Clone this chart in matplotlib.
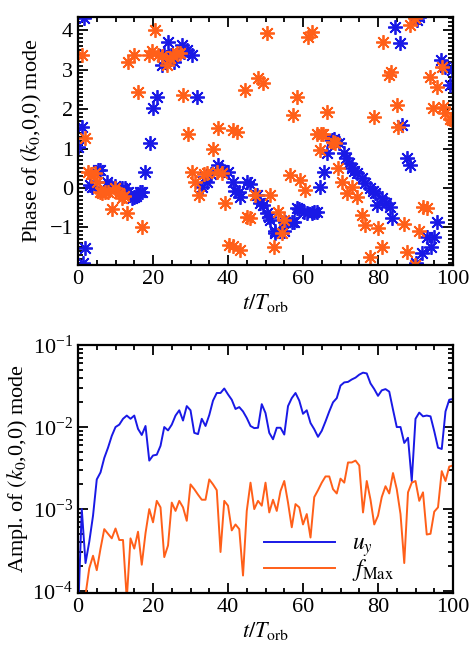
import numpy as np
import matplotlib
matplotlib.use('Agg')
import matplotlib.pyplot as plt
from matplotlib.ticker import MultipleLocator, LogLocator, NullFormatter

plt.rcParams['font.family'] = ['Liberation Serif', 'DejaVu Serif']
plt.rcParams['mathtext.fontset'] = 'stix'
plt.rcParams['font.size'] = 16

blue = '#1919E6'
orange = '#FF5F19'

# phase of the (k0,0,0) mode, u_y (blue)
t_uy = [0.1, 1.0, 1.5, 1.4, 1.9, 3.2, 3.6, 5.4, 5.9, 7.6, 8.8, 9.9, 11.6, 12.5, 13.4,
        14.3, 14.8, 15.5, 16.5, 17.0, 17.9, 19.2, 20.0, 21.0, 22.3, 23.0, 24.1, 24.7,
        25.5, 27.6, 28.3, 29.0, 30.3, 31.6, 33.0, 33.9, 34.3, 35.5, 37.4, 38.5, 40.1,
        41.4, 41.8, 42.8, 43.3, 45.0, 45.8, 47.6, 48.6, 49.4, 50.4, 50.8, 51.3, 52.5,
        52.6, 54.8, 55.3, 57.0, 57.5, 58.4, 58.8, 60.2, 61.0, 62.3, 62.8, 63.7, 64.6,
        65.5, 66.4, 67.7, 68.3, 69.5, 70.8, 71.5, 72.2, 73.0, 73.7, 74.4, 75.7, 76.6,
        77.9, 78.6, 79.3, 79.7, 81.0, 82.0, 83.3, 83.7, 84.6, 85.8, 86.4, 87.7, 88.6,
        90.0, 90.4, 91.0, 91.7, 93.1, 94.0, 94.8, 95.7, 96.8, 97.9, 99.3, 99.6]
ph_uy = [1.05, 1.55, 4.3, -1.9, -1.53, 0.08, 0.03, 0.46, 0.46, 0.16, 0.05, 0.05, -0.01,
         0.0, -0.09, -0.25, -0.22, -0.2, -0.09, -0.09, 0.41, 1.13, 2.02, 2.31, 3.11, 3.4,
         3.7, 3.37, 3.2, 3.62, 3.45, 3.49, 3.37, 2.31, 0.03, 0.29, 0.16, 0.35, 0.58, 0.45,
         0.41, 0.16, -0.08, -0.09, -0.22, 0.16, 0.1, -0.18, -0.39, -0.43, -0.64, -0.73,
         -0.81, -1.1, -1.15, -1.1, -0.85, -0.85, -0.85, -0.5, -0.52, -0.6, -0.64, -0.64,
         -0.6, -0.62, 0.03, 0.41, 0.88, 1.22, 1.25, 1.13, 0.88, 0.75, 0.63, 0.5, 0.44,
         0.37, 0.25, 0.12, -0.01, -0.07, -0.13, -0.43, -0.26, -0.39, -0.47, -0.77, 4.08,
         3.66, 1.6, 0.75, 0.58, -1.9, 4.25, 4.33, -1.65, -1.23, -1.49, -1.23, -0.85, 3.24,
         3.07, 2.61, 3.0]

# phase of the (k0,0,0) mode, f_Max (orange)
t_fm = [1.0, 1.9, 2.7, 3.5, 4.5, 5.0, 5.9, 6.5, 7.3, 8.1, 9.0, 9.9, 10.8, 11.6, 12.2,
        13.0, 13.4, 14.8, 16.1, 17.0, 18.8, 19.6, 20.5, 21.4, 22.3, 23.6, 24.5, 25.3,
        26.3, 27.2, 28.1, 29.4, 30.3, 31.2, 32.3, 33.5, 34.5, 36.1, 37.0, 37.4, 38.3,
        39.2, 40.3, 41.2, 41.4, 42.3, 43.2, 44.5, 45.0, 45.9, 47.2, 48.1, 49.4, 50.3,
        51.2, 52.3, 53.2, 54.4, 55.0, 56.4, 57.4, 58.3, 59.2, 60.5, 61.4, 62.3, 63.6,
        64.5, 64.9, 65.4, 66.3, 68.1, 68.6, 69.4, 70.3, 71.6, 73.0, 74.3, 75.6, 76.5,
        77.9, 78.8, 80.1, 81.0, 81.4, 82.8, 83.4, 85.0, 85.4, 86.8, 87.6, 88.5, 89.9,
        89.9, 90.8, 92.1, 93.0, 93.9, 94.7, 95.6, 97.0, 97.4, 97.8, 99.2, 99.7]
ph_fm = [3.37, 1.26, 0.41, 0.35, 0.37, 0.16, -0.09, -0.13, -0.1, -0.09, -0.52, -0.01,
         -0.13, -0.26, -0.2, -0.64, 3.2, 3.37, 2.44, -0.98, 3.37, 3.47, 4.0, 3.37, 3.35,
         3.11, 3.3, 3.35, 3.41, 3.41, 2.35, 1.38, 0.41, 0.16, -0.18, 0.35, 0.37, 0.98,
         0.41, 1.51, 0.37, -0.39, -1.44, -1.47, 1.47, 1.43, -1.57, 2.48, -0.73, -0.75,
         -0.18, 2.78, 2.65, 3.92, -0.18, -1.49, -0.6, -1.15, -0.81, 0.33, 1.85, 2.31, 0.2,
         -0.05, 3.83, 3.96, 1.38, 0.96, 1.38, 1.38, 1.93, 1.17, 1.15, 0.5, 0.16, -0.13,
         0.03, -0.22, -0.68, -0.94, -1.74, 1.8, -1.02, -1.49, 3.7, 2.86, 2.95, 2.1, 1.55,
         -0.9, -1.61, 4.13, 4.3, -1.95, -1.1, -0.47, -0.5, 2.82, 2.02, 2.56, 3.07, 2.06,
         1.9, 1.76, 1.72]

# amplitude of the (k0,0,0) mode, one value per orbit
t_amp = np.arange(101)
amp_uy = [5e-5, 1.0e-3, 2.2e-4, 4.0e-4, 8.3e-4, 2.3e-3, 2.8e-3, 4.2e-3, 5.6e-3, 7.8e-3,
          1.0e-2, 1.07e-2, 1.26e-2, 1.38e-2, 1.26e-2, 1.38e-2, 9.5e-3, 8.0e-3, 1.03e-2, 3.9e-3,
          4.5e-3, 4.6e-3, 5.9e-3, 1.0e-2, 9.1e-3, 1.07e-2, 1.38e-2, 1.6e-2, 1.2e-2, 1.8e-2,
          1.6e-2, 8.5e-3, 8.2e-3, 1.26e-2, 1.03e-2, 1.4e-2, 2.1e-2, 2.6e-2, 2.6e-2, 2.95e-2,
          2.5e-2, 2.15e-2, 1.66e-2, 1.75e-2, 1.55e-2, 1.29e-2, 1.03e-2, 9.7e-3, 9.8e-3, 1.9e-2,
          1.48e-2, 8.5e-3, 7.1e-3, 9.8e-3, 9.8e-3, 8.1e-3, 1.8e-2, 2.25e-2, 2.6e-2, 2.1e-2,
          1.45e-2, 1.6e-2, 1.12e-2, 9.4e-3, 7.6e-3, 9.0e-3, 1.17e-2, 1.55e-2, 2.0e-2, 2.25e-2,
          3.2e-2, 3.5e-2, 3.55e-2, 3.8e-2, 4.0e-2, 4.35e-2, 4.6e-2, 4.5e-2, 3.4e-2, 2.9e-2,
          2.4e-2, 2.8e-2, 2.9e-2, 2.7e-2, 1.63e-2, 1.0e-2, 1.0e-2, 6.4e-3, 7.4e-3, 2.2e-3,
          1.26e-2, 1.5e-2, 1.35e-2, 1.38e-2, 1.35e-2, 8.9e-3, 5.6e-3, 5.4e-3, 1.55e-2, 2.15e-2,
          2.2e-2]
amp_fm = [5e-5, 5e-5, 9e-5, 1.9e-4, 2.7e-4, 1.8e-4, 3.3e-4, 5.7e-4, 5.0e-4, 4.4e-4,
          5.8e-4, 4.2e-4, 4.2e-4, 8e-5, 4.4e-4, 3.3e-4, 5.3e-4, 2.1e-4, 5.1e-4, 1.0e-3,
          6.9e-4, 1.26e-3, 1.05e-3, 2.6e-4, 3.6e-4, 1.2e-3, 9.5e-4, 1.26e-3, 1.05e-3, 7.2e-4,
          2.0e-3, 1.75e-3, 1.5e-3, 1.3e-3, 1.3e-3, 2.3e-3, 2.0e-3, 1.7e-3, 3.0e-4, 1.26e-3,
          1.1e-3, 5.5e-4, 6.5e-4, 5.7e-4, 1.55e-4, 9.5e-4, 2.1e-3, 1.0e-3, 1.26e-3, 1.1e-3,
          2.1e-3, 9.1e-4, 1.3e-3, 9.5e-4, 1.66e-3, 2.2e-3, 1.2e-3, 6.0e-4, 1.15e-3, 1.05e-3,
          6.5e-4, 8.7e-4, 4.5e-4, 1.4e-3, 1.7e-3, 2.1e-3, 2.5e-3, 2.5e-3, 1.75e-3, 1.55e-3,
          2.35e-3, 2.1e-3, 3.7e-3, 3.7e-3, 3.9e-3, 3.4e-3, 9.1e-4, 2.2e-3, 1.3e-3, 6.5e-4,
          8.3e-4, 1.4e-3, 1.9e-3, 1.55e-3, 2.75e-3, 1.75e-3, 8.7e-4, 2.2e-4, 1.6e-3, 2.1e-3,
          2.2e-3, 1.26e-3, 1.6e-3, 4.9e-4, 5.0e-4, 9.3e-4, 1.05e-3, 2.9e-3, 2.2e-3, 3.3e-3,
          3.4e-3]


def style(ax):
    ax.tick_params(which='both', direction='in', top=True, right=True, width=1.3)
    ax.tick_params(which='major', length=7)
    ax.tick_params(which='minor', length=3.5)
    for s in ax.spines.values():
        s.set_linewidth(1.6)
    ax.xaxis.set_major_locator(MultipleLocator(20))
    ax.xaxis.set_minor_locator(MultipleLocator(5))
    ax.set_xlim(0, 100)
    ax.set_xlabel(r'$t/T_{\rm orb}$', labelpad=2)


fig = plt.figure(figsize=(4.74, 6.55), dpi=100)
ax1 = fig.add_axes([0.1646, 0.5954, 0.7911, 0.3786])
ax2 = fig.add_axes([0.1646, 0.0947, 0.7911, 0.3786])

star = (8, 2, 0)
ax1.plot(t_uy, ph_uy, ls='none', marker=star, ms=10.5, mew=1.3, color=blue)
ax1.plot(t_fm, ph_fm, ls='none', marker=star, ms=10.5, mew=1.3, color=orange)
ax1.set_ylim(-1.95, 4.33)
ax1.yaxis.set_major_locator(MultipleLocator(1))
ax1.yaxis.set_minor_locator(MultipleLocator(0.1))
ax1.set_ylabel(r'Phase of $(k_0$,0,0) mode', labelpad=4)
style(ax1)

ax2.semilogy(t_amp, amp_uy, color=blue, lw=1.4, label=r'$u_y$')
ax2.semilogy(t_amp, amp_fm, color=orange, lw=1.4, label=r'$f_{\rm Max}$')
ax2.set_ylim(0.95e-4, 1e-1)
ax2.yaxis.set_major_locator(LogLocator(base=10, numticks=10))
ax2.yaxis.set_minor_locator(LogLocator(base=10, subs=np.arange(2, 10), numticks=20))
ax2.yaxis.set_minor_formatter(NullFormatter())
ax2.set_ylabel(r'Ampl. of $(k_0$,0,0) mode', labelpad=2)
style(ax2)
ax2.legend(loc='lower left', bbox_to_anchor=(0.44, -0.045), frameon=False, handlelength=3.0,
           handletextpad=0.7, labelspacing=-0.1, fontsize=17)

fig.savefig('out.png', dpi=100)
